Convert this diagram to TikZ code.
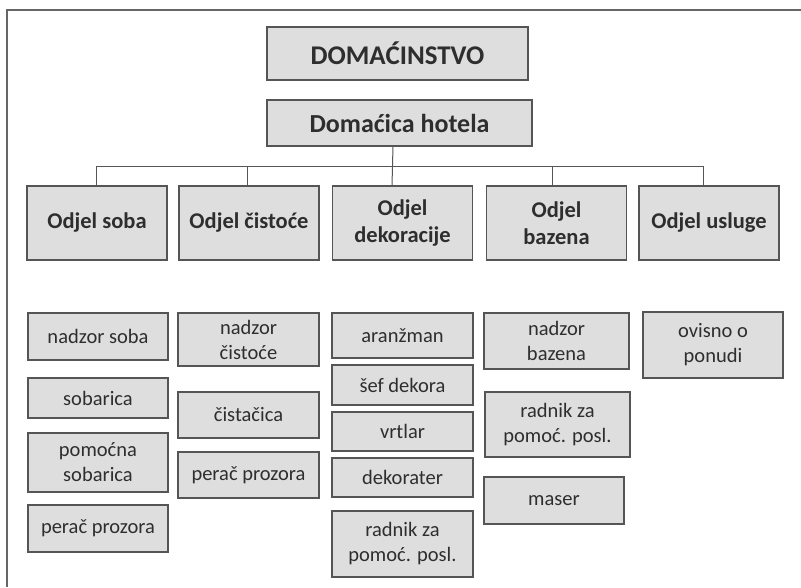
\documentclass[tikz,border=0pt]{standalone}
\usepackage{fontspec}
\setmainfont{Carlito}
\definecolor{boxfill}{HTML}{DEDEDE}
\definecolor{boxline}{HTML}{555555}
\definecolor{txt}{HTML}{2E2E2E}
\definecolor{framecol}{HTML}{666666}
\tikzset{
  box/.style={draw=boxline, fill=boxfill, line width=1.2pt, align=center, inner sep=0pt, outer sep=0pt, text=txt},
  toptitle/.style={box, font=\fontsize{27}{32}\selectfont\bfseries},
  headbox/.style={box, font=\fontsize{26}{31}\selectfont\bfseries},
  deptbox/.style={box, minimum width=140, minimum height=74, font=\fontsize{22.5}{27}\selectfont\bfseries},
  jobbox/.style={box, font=\fontsize{20.5}{25}\selectfont},
  conn/.style={draw=boxline, line width=1pt},
  framel/.style={draw=framecol, line width=1.6pt}
}
\begin{document}
\begin{tikzpicture}[x=1pt, y=-1pt]
\useasboundingbox (0,0) rectangle (801,587);
\fill[white] (0,0) rectangle (801,587);
\draw[framel] (801,10) -- (7,10) -- (7,587);

\node[toptitle, minimum width=261, minimum height=53] (dom) at (397.5,53.5) {DOMAĆINSTVO};
\node[headbox, minimum width=265, minimum height=46] (hot) at (399.5,123) {Domaćica hotela};

\node[deptbox] (soba) at (97,223) {Odjel soba};
\node[deptbox] (cist) at (249,223) {Odjel čistoće};
\node[deptbox] (dek) at (402.5,223) {Odjel\\dekoracije};
\node[deptbox] (baz) at (556.5,223) {Odjel\\bazena};
\node[deptbox] (usl) at (709,223) {Odjel usluge};

\coordinate (bus) at (0,166);
\draw[conn] ([xshift=-1pt]soba.north) |- ([xshift=-6pt]usl.north |- bus) -- ([xshift=-6pt]usl.north);
\draw[conn] ([xshift=-2pt]cist.north) -- ([xshift=-2pt]cist.north |- bus);
\draw[conn] ([xshift=-4.5pt]baz.north) -- ([xshift=-4.5pt]baz.north |- bus);
\draw[conn] ([xshift=-6.5pt]hot.south) -- ([xshift=-10.5pt]dek.north);

% column 1
\node[jobbox, minimum width=140, minimum height=47] (n1) at (98,336.5) {nadzor soba};
\node[jobbox, minimum width=140, minimum height=40] (s1) at (98,398) {sobarica};
\node[jobbox, minimum width=140, minimum height=59] (p1) at (98,462.5) {pomoćna\\sobarica};
\node[jobbox, minimum width=140, minimum height=47] (pp1) at (98,528.5) {perač prozora};
% column 2
\node[jobbox, minimum width=141, minimum height=53] (n2) at (248.5,339.5) {nadzor\\čistoće};
\node[jobbox, minimum width=141, minimum height=46] (c2) at (248.5,415) {čistačica};
\node[jobbox, minimum width=141, minimum height=46] (pp2) at (248.5,475) {perač prozora};
% column 3
\node[jobbox, minimum width=141, minimum height=45] (a3) at (402.5,335.5) {aranžman};
\node[jobbox, minimum width=141, minimum height=40] (s3) at (402.5,385) {šef dekora};
\node[jobbox, minimum width=141, minimum height=39] (v3) at (402.5,431.5) {vrtlar};
\node[jobbox, minimum width=141, minimum height=39] (d3) at (402.5,477.5) {dekorater};
\node[jobbox, minimum width=141, minimum height=66] (r3) at (402.5,544) {radnik za\\pomoć. posl.};
% column 4
\node[jobbox, minimum width=145, minimum height=56] (n4) at (556.5,341) {nadzor\\bazena};
\node[jobbox, minimum width=145, minimum height=65] (r4) at (557.5,424.5) {radnik za\\pomoć. posl.};
\node[jobbox, minimum width=140, minimum height=47] (m4) at (554,500.5) {maser};
% column 5
\node[jobbox, minimum width=140, minimum height=66] (o5) at (713,345) {ovisno o\\ponudi};
\end{tikzpicture}
\end{document}
